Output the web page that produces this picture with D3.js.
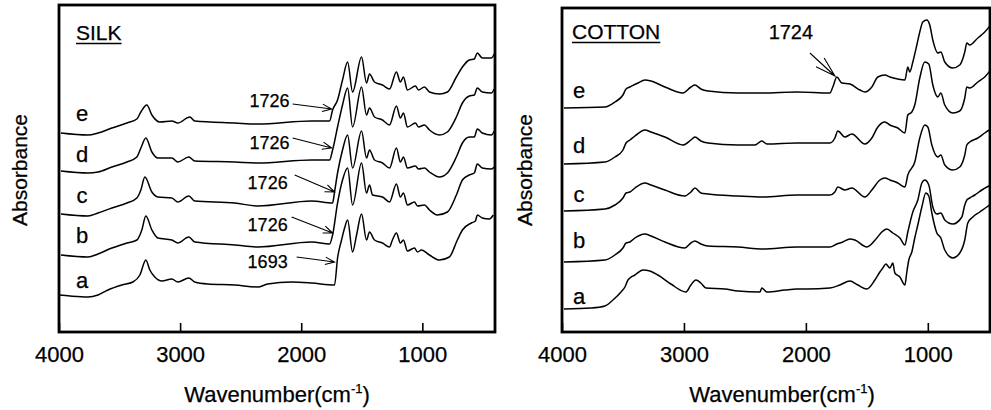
<!DOCTYPE html>
<html>
<head>
<meta charset="utf-8">
<script src="https://cdn.jsdelivr.net/npm/d3@7"></script>
<style>
  body { margin: 0; background: #fff; }
  svg text { font-family: "Liberation Sans", Arial, sans-serif; fill: #000; stroke: #000; stroke-width: 0.25px; }
</style>
</head>
<body>
<svg id="chart" width="991" height="410"></svg>
<script>
// spectra: [wavenumber (cm-1), absorbance (offset, a.u.)]
const silkA = [[4000,0.37],[3909,0.36],[3761,0.35],[3678,0.37],[3596,0.42],[3481,0.47],[3390,0.50],[3332,0.57],[3283,0.72],[3250,0.62],[3209,0.55],[3151,0.51],[3068,0.53],[3019,0.50],[2928,0.54],[2879,0.50],[2772,0.48],[2549,0.47],[2359,0.45],[2277,0.48],[2079,0.50],[1914,0.49],[1725,0.47],[1700,0.74],[1667,0.92],[1642,1.04],[1617,1.12],[1576,0.80],[1543,0.97],[1502,1.18],[1461,0.92],[1436,1.00],[1395,0.92],[1329,0.89],[1271,0.85],[1247,0.92],[1214,0.99],[1181,0.89],[1156,0.92],[1123,0.81],[1065,0.84],[1040,0.80],[1007,0.82],[941,0.77],[859,0.72],[777,0.75],[711,0.92],[669,1.02],[595,1.09],[562,1.11],[546,1.17],[505,1.14],[447,1.13],[414,1.17]];
const silkB = [[3984,0.77],[3761,0.75],[3678,0.78],[3563,0.84],[3439,0.89],[3357,0.92],[3316,1.02],[3283,1.16],[3233,1.02],[3184,0.94],[3068,0.92],[3019,0.89],[2928,0.95],[2879,0.90],[2549,0.87],[2359,0.85],[1914,0.90],[1766,0.88],[1741,0.97],[1700,1.29],[1659,1.52],[1617,1.64],[1576,1.27],[1502,1.69],[1461,1.39],[1436,1.47],[1411,1.37],[1329,1.35],[1271,1.30],[1214,1.48],[1181,1.35],[1156,1.39],[1123,1.27],[1065,1.30],[1040,1.26],[983,1.27],[941,1.22],[876,1.17],[793,1.20],[719,1.37],[669,1.52],[612,1.57],[571,1.59],[546,1.68],[505,1.64],[430,1.63],[406,1.65]];
const silkC = [[3984,1.18],[3761,1.16],[3678,1.19],[3563,1.24],[3439,1.29],[3357,1.34],[3324,1.42],[3291,1.55],[3233,1.40],[3184,1.35],[3068,1.34],[3019,1.30],[2928,1.36],[2879,1.31],[2549,1.29],[2359,1.26],[1914,1.31],[1741,1.29],[1725,1.40],[1700,1.59],[1659,1.82],[1617,1.97],[1576,1.64],[1502,2.01],[1461,1.74],[1436,1.82],[1395,1.72],[1329,1.69],[1271,1.64],[1214,1.84],[1181,1.70],[1156,1.75],[1123,1.64],[1057,1.66],[1032,1.63],[983,1.64],[941,1.60],[859,1.55],[793,1.59],[719,1.75],[669,1.89],[612,1.95],[571,1.95],[546,2.03],[505,1.99],[430,1.97],[406,2.01]];
const silkD = [[3984,1.61],[3761,1.59],[3678,1.60],[3563,1.65],[3439,1.70],[3357,1.75],[3324,1.84],[3283,1.94],[3233,1.80],[3184,1.74],[3068,1.74],[3019,1.70],[2928,1.75],[2879,1.71],[2549,1.70],[2359,1.69],[1914,1.72],[1766,1.72],[1741,1.82],[1700,2.05],[1659,2.27],[1617,2.44],[1576,2.05],[1502,2.45],[1461,2.17],[1436,2.24],[1395,2.15],[1329,2.12],[1271,2.07],[1214,2.26],[1181,2.14],[1156,2.19],[1123,2.05],[1057,2.09],[1032,2.05],[983,2.07],[941,2.02],[859,1.97],[793,2.00],[719,2.15],[669,2.29],[612,2.36],[571,2.37],[546,2.44],[505,2.40],[430,2.39],[406,2.43]];
const silkE = [[3984,1.99],[3761,1.97],[3678,1.99],[3563,2.04],[3439,2.09],[3357,2.13],[3324,2.20],[3275,2.27],[3233,2.17],[3167,2.10],[3068,2.11],[3019,2.09],[2920,2.15],[2879,2.11],[2549,2.09],[2359,2.08],[1914,2.11],[1766,2.11],[1741,2.22],[1700,2.32],[1659,2.52],[1617,2.70],[1576,2.40],[1502,2.75],[1461,2.49],[1436,2.58],[1395,2.50],[1329,2.47],[1271,2.43],[1214,2.60],[1181,2.50],[1156,2.55],[1123,2.42],[1057,2.46],[1032,2.42],[983,2.45],[941,2.40],[859,2.38],[793,2.40],[719,2.55],[669,2.65],[612,2.72],[571,2.73],[546,2.79],[505,2.74],[430,2.74],[406,2.78]];

const cottonA = [[3984,0.23],[3762,0.24],[3648,0.26],[3582,0.32],[3516,0.40],[3484,0.45],[3459,0.52],[3443,0.54],[3402,0.57],[3336,0.62],[3279,0.61],[3213,0.57],[3107,0.48],[2984,0.40],[2943,0.47],[2902,0.52],[2861,0.49],[2820,0.44],[2664,0.43],[2557,0.41],[2377,0.40],[2361,0.44],[2320,0.40],[2172,0.42],[2074,0.43],[1992,0.43],[1803,0.44],[1721,0.47],[1639,0.51],[1574,0.47],[1500,0.43],[1434,0.52],[1393,0.60],[1369,0.64],[1344,0.68],[1311,0.64],[1287,0.69],[1270,0.59],[1229,0.55],[1188,0.47],[1172,0.60],[1156,0.72],[1131,0.80],[1107,0.94],[1082,1.07],[1049,1.25],[1016,1.39],[992,1.36],[967,1.19],[926,0.99],[893,0.94],[861,0.82],[795,0.74],[738,0.79],[697,0.92],[672,1.09],[631,1.15],[574,1.20],[516,1.25],[484,1.28]];
const cottonB = [[3984,0.70],[3648,0.72],[3566,0.77],[3500,0.84],[3475,0.89],[3443,0.90],[3402,0.94],[3320,0.98],[3270,0.96],[3156,0.90],[2992,0.84],[2943,0.89],[2910,0.91],[2861,0.88],[2803,0.86],[2557,0.85],[2352,0.83],[2074,0.85],[1803,0.85],[1746,0.88],[1697,0.90],[1639,0.93],[1598,0.92],[1500,0.85],[1418,0.94],[1377,1.00],[1336,1.03],[1287,0.99],[1229,0.94],[1188,0.87],[1164,1.00],[1123,1.20],[1082,1.32],[1049,1.49],[1025,1.52],[992,1.47],[959,1.25],[926,1.18],[893,1.19],[861,1.12],[795,1.08],[721,1.15],[697,1.27],[680,1.32],[656,1.34],[615,1.37],[557,1.42],[484,1.47]];
const cottonC = [[3984,1.21],[3648,1.23],[3566,1.27],[3500,1.34],[3475,1.39],[3443,1.40],[3402,1.44],[3320,1.49],[3270,1.47],[3156,1.42],[2992,1.36],[2943,1.40],[2910,1.44],[2861,1.39],[2803,1.38],[2557,1.36],[2352,1.35],[2074,1.37],[1803,1.37],[1762,1.40],[1738,1.45],[1680,1.42],[1623,1.44],[1516,1.35],[1459,1.42],[1393,1.52],[1352,1.54],[1311,1.52],[1246,1.49],[1188,1.45],[1164,1.57],[1107,1.70],[1066,1.94],[1025,2.07],[1000,2.05],[967,1.87],[918,1.75],[893,1.77],[861,1.67],[795,1.62],[738,1.65],[697,1.77],[680,1.87],[656,1.90],[590,1.94],[533,1.99],[484,2.03]];
const cottonD = [[3984,1.68],[3648,1.70],[3566,1.75],[3500,1.82],[3475,1.89],[3443,1.92],[3402,1.96],[3320,2.02],[3270,2.00],[3156,1.95],[3008,1.87],[2943,1.92],[2910,1.95],[2861,1.91],[2803,1.89],[2557,1.87],[2418,1.87],[2361,1.91],[2320,1.88],[2074,1.89],[1803,1.89],[1762,1.94],[1738,2.01],[1680,1.95],[1623,1.98],[1516,1.88],[1459,1.94],[1410,2.05],[1352,2.10],[1311,2.07],[1246,2.04],[1188,1.99],[1164,2.17],[1131,2.20],[1107,2.27],[1066,2.54],[1025,2.70],[992,2.68],[959,2.47],[918,2.35],[893,2.39],[861,2.27],[795,2.19],[738,2.21],[697,2.34],[680,2.45],[656,2.44],[590,2.50],[533,2.55],[484,2.62]];
const cottonE = [[3984,2.24],[3648,2.25],[3566,2.30],[3500,2.37],[3475,2.43],[3443,2.45],[3377,2.49],[3320,2.52],[3270,2.51],[3156,2.45],[3008,2.39],[2943,2.45],[2910,2.47],[2861,2.43],[2803,2.41],[2557,2.39],[2352,2.39],[2074,2.40],[1803,2.39],[1779,2.45],[1746,2.55],[1705,2.49],[1639,2.48],[1557,2.42],[1516,2.40],[1459,2.45],[1410,2.55],[1352,2.57],[1311,2.55],[1246,2.53],[1188,2.52],[1164,2.65],[1148,2.60],[1123,2.70],[1090,2.87],[1066,3.00],[1041,3.10],[1008,3.12],[984,3.07],[959,2.92],[918,2.79],[893,2.80],[861,2.70],[795,2.64],[738,2.67],[697,2.80],[680,2.89],[656,2.87],[590,2.94],[533,3.00],[484,3.07]];

const curveNames = ["a", "b", "c", "d", "e"];
const xTicks = [4000, 3000, 2000, 1000];

// peak notes: label, text anchor point, arrow from, arrow to (all in data units)
const silkNotes = [
  { label: "1726", text: [2096, 2.25], from: [2071, 2.28], to: [1749, 2.23] },
  { label: "1726", text: [2096, 1.83], from: [2071, 1.94], to: [1749, 1.84] },
  { label: "1726", text: [2112, 1.43], from: [2054, 1.57], to: [1725, 1.40] },
  { label: "1726", text: [2112, 1.01], from: [2079, 1.15], to: [1741, 0.99] },
  { label: "1693", text: [2112, 0.64], from: [2038, 0.75], to: [1725, 0.70] }
];
const cottonNotes = [
  { label: "1724", text: [2123, 2.93], from: [1967, 2.79], to: [1762, 2.56] }
];

const svg = d3.select("#chart");

const panels = [
  {
    title: "SILK", series: [silkA, silkB, silkC, silkD, silkE], notes: silkNotes,
    left: 59, right: 495, top: 5, bottom: 332, xEnd: 400,
    letterX: 82, letterY: [288, 243, 203, 162, 121],
    titleX: 76, titleY: 40, ylabX: 27, xlabX: 277,
    noteSize: 18, noteAnchor: "end", headLen: 10, headAng: 0.38
  },
  {
    title: "COTTON", series: [cottonA, cottonB, cottonC, cottonD, cottonE], notes: cottonNotes,
    left: 562, right: 990, top: 8, bottom: 332, xEnd: 490,
    letterX: 579, letterY: [304, 248, 202, 153, 98],
    titleX: 572, titleY: 39, ylabX: 532, xlabX: 782,
    noteSize: 20, noteAnchor: "middle", headLen: 21, headAng: 0.29
  }
];

panels.forEach(p => {
  const x = d3.scaleLinear().domain([4000, p.xEnd]).range([p.left, p.right]);
  const y = d3.scaleLinear().domain([0, (p.bottom - p.top) / 100]).range([p.bottom, p.top]);
  const g = svg.append("g");

  const line = d3.line()
    .curve(d3.curveMonotoneX)
    .x(d => x(d[0]))
    .y(d => y(d[1]));

  g.selectAll("path.spec")
    .data(p.series)
    .join("path")
    .attr("class", "spec")
    .attr("d", line)
    .attr("fill", "none")
    .attr("stroke", "#000")
    .attr("stroke-width", 1.5)
    .attr("stroke-linejoin", "round");

  // curve letters
  g.selectAll("text.letter")
    .data(curveNames)
    .join("text")
    .attr("class", "letter")
    .attr("x", p.letterX)
    .attr("y", (d, i) => p.letterY[i])
    .attr("text-anchor", "middle")
    .style("font-size", "22px")
    .text(d => d);

  // bottom axis, inward ticks
  const axis = d3.axisBottom(x)
    .tickValues(xTicks)
    .tickSizeInner(-9)
    .tickSizeOuter(0)
    .tickPadding(14)
    .tickFormat(d3.format("d"));
  const ax = g.append("g")
    .attr("transform", `translate(0,${p.bottom})`)
    .call(axis);
  ax.select(".domain").remove();
  ax.selectAll("line").attr("stroke", "#000").attr("stroke-width", 1.6);
  ax.selectAll("text")
    .style("font-size", "22px")
    .style("font-family", null)
    .attr("fill", "#000");

  // frame
  g.append("rect")
    .attr("x", p.left)
    .attr("y", p.top)
    .attr("width", p.right - p.left)
    .attr("height", p.bottom - p.top)
    .attr("fill", "none")
    .attr("stroke", "#000")
    .attr("stroke-width", 2.8);

  // panel title, underlined
  const t = g.append("text")
    .attr("x", p.titleX)
    .attr("y", p.titleY)
    .style("font-size", "21px")
    .text(p.title);
  const tw = t.node().getComputedTextLength();
  g.append("line")
    .attr("x1", p.titleX).attr("x2", p.titleX + tw)
    .attr("y1", p.titleY + 3.5).attr("y2", p.titleY + 3.5)
    .attr("stroke", "#000").attr("stroke-width", 1.6);

  // peak notes with open arrows
  p.notes.forEach(n => {
    g.append("text")
      .attr("x", x(n.text[0]))
      .attr("y", y(n.text[1]))
      .attr("text-anchor", p.noteAnchor)
      .style("font-size", p.noteSize + "px")
      .text(n.label);
    const x1 = x(n.from[0]), y1 = y(n.from[1]);
    const x2 = x(n.to[0]), y2 = y(n.to[1]);
    const ang = Math.atan2(y2 - y1, x2 - x1);
    const h1 = [x2 - p.headLen * Math.cos(ang - p.headAng), y2 - p.headLen * Math.sin(ang - p.headAng)];
    const h2 = [x2 - p.headLen * Math.cos(ang + p.headAng), y2 - p.headLen * Math.sin(ang + p.headAng)];
    g.append("path")
      .attr("d", `M${x1},${y1}L${x2},${y2}M${h1[0]},${h1[1]}L${x2},${y2}L${h2[0]},${h2[1]}`)
      .attr("fill", "none")
      .attr("stroke", "#000")
      .attr("stroke-width", 1.1);
  });

  // axis titles
  g.append("text")
    .attr("transform", `translate(${p.ylabX},170) rotate(-90)`)
    .attr("text-anchor", "middle")
    .style("font-size", "21px")
    .text("Absorbance");

  const xl = g.append("text")
    .attr("x", p.xlabX)
    .attr("y", 402)
    .attr("text-anchor", "middle")
    .style("font-size", "22px");
  xl.append("tspan").text("Wavenumber(cm");
  xl.append("tspan").attr("dy", -9).style("font-size", "13px").text("-1");
  xl.append("tspan").attr("dy", 9).text(")");
});
</script>
</body>
</html>
